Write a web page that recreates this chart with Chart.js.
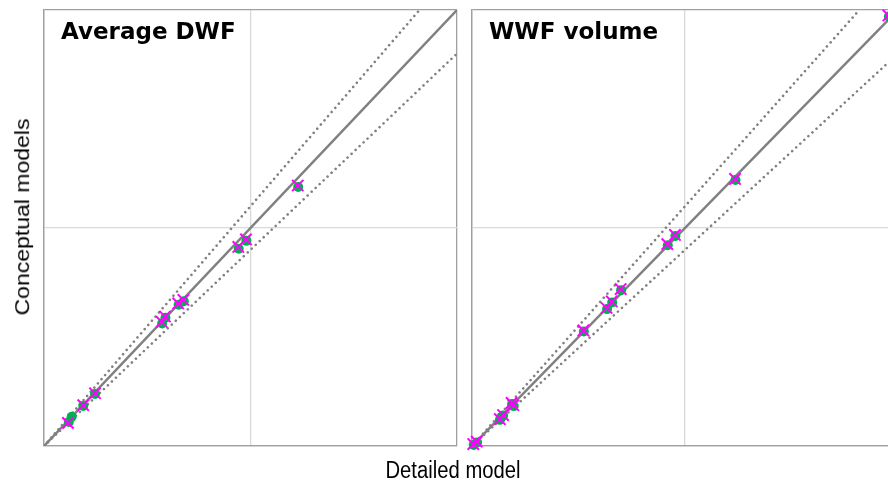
<!DOCTYPE html>
<html>
<head>
<meta charset="utf-8">
<script src="https://cdn.jsdelivr.net/npm/chart.js@4.4.0/dist/chart.umd.min.js"></script>
<style>
html,body{margin:0;padding:0;width:888px;height:491px;overflow:hidden;background:#fff;}
canvas{position:absolute;left:0;top:0;}
.ttl{position:absolute;font-family:"DejaVu Sans";font-weight:bold;font-size:23px;color:#000;white-space:nowrap;}
.ax{position:absolute;font-family:"Liberation Sans";font-size:23px;color:#000;white-space:nowrap;}
</style>
</head>
<body>
<canvas id="c1" width="888" height="491"></canvas>
<canvas id="c2" width="910" height="491"></canvas>
<div class="ttl" style="left:61px;top:18px;">Average DWF</div>
<div class="ttl" style="left:489px;top:18px;">WWF volume</div>
<div class="ax" style="left:453px;top:457px;transform:translateX(-50%) scaleX(0.88);">Detailed model</div>
<div class="ax" style="left:23px;top:217px;transform:translate(-50%,-50%) rotate(-90deg) scaleY(0.88);">Conceptual models</div>
<script>
// Panel 1: Average DWF (detailed vs conceptual, normalised units)
const dwfMagentaX = [0.116, 0.190, 0.247, 0.570, 0.586, 0.650, 0.675, 0.941, 0.978, 1.229];
const dwfMagentaY = [0.106, 0.187, 0.242, 0.569, 0.594, 0.654, 0.670, 0.913, 0.948, 1.195];
const dwfGreenX   = [0.134, 0.120, 0.190, 0.247, 0.572, 0.588, 0.652, 0.677, 0.943, 0.980, 1.231];
const dwfGreenY   = [0.134, 0.110, 0.184, 0.239, 0.562, 0.588, 0.648, 0.664, 0.905, 0.941, 1.188];
// Panel 2: WWF volume
const wwfMagentaX = [0.006, 0.022, 0.131, 0.146, 0.186, 0.194, 0.523, 0.632, 0.656, 0.698, 0.917, 0.953, 1.235, 1.955];
const wwfMagentaY = [0.009, 0.020, 0.123, 0.142, 0.198, 0.187, 0.530, 0.633, 0.663, 0.720, 0.926, 0.968, 1.225, 1.975];
const wwfGreenX   = [0.008, 0.024, 0.131, 0.139, 0.146, 0.188, 0.196, 0.525, 0.634, 0.658, 0.700, 0.919, 0.955, 1.237, 1.957];
const wwfGreenY   = [0.005, 0.016, 0.120, 0.134, 0.140, 0.193, 0.183, 0.525, 0.628, 0.658, 0.715, 0.921, 0.963, 1.220, 1.970];
const axisMax = 2;
const gridAt = 1;
const band = 0.1; // +/-10% lines

function pts(xs, ys){ return xs.map((x,i)=>({x:x,y:ys[i]})); }

function makeChart(id, mx, my, gx, gy, pad){
  const scale = {
    type:'linear', min:0, max:axisMax,
    ticks:{display:false, stepSize:gridAt},
    grid:{drawTicks:false, lineWidth:1.3,
      color:(c)=> c.tick && c.tick.value===gridAt ? '#d9d9d9' : '#a0a0a0'},
    border:{display:true, color:'#a0a0a0', width:1.3}
  };
  return new Chart(document.getElementById(id), {
    type:'scatter',
    data:{datasets:[
      {data:pts(mx,my), pointStyle:'crossRot', pointRadius:8, borderColor:'#ff00ff', backgroundColor:'#ff00ff', pointBorderWidth:2, showLine:false, order:0, clip:false},
      {data:pts(gx,gy), pointStyle:'circle', pointRadius:5, borderColor:'#00b050', backgroundColor:'#00b050', pointBorderWidth:0, showLine:false, order:1, clip:false},
      {data:[{x:0,y:0},{x:axisMax,y:axisMax}], showLine:true, borderColor:'#808080', borderWidth:2.5, pointRadius:0, order:2},
      {data:[{x:0,y:0},{x:axisMax/(1+band),y:axisMax}], showLine:true, borderColor:'#808080', borderWidth:2.6, borderDash:[0.01,5.5], borderCapStyle:'round', pointRadius:0, order:3},
      {data:[{x:0,y:0},{x:axisMax,y:axisMax*(1-band)}], showLine:true, borderColor:'#808080', borderWidth:2.6, borderDash:[0.01,5.5], borderCapStyle:'round', pointRadius:0, order:4}
    ]},
    options:{
      responsive:false, animation:false,
      layout:{padding:pad},
      plugins:{legend:{display:false}, tooltip:{enabled:false}},
      scales:{x:scale, y:Object.assign({}, scale)}
    }
  });
}
makeChart('c1', dwfMagentaX, dwfMagentaY, dwfGreenX, dwfGreenY, {left:44, top:8, right:431, bottom:45});
makeChart('c2', wwfMagentaX, wwfMagentaY, wwfGreenX, wwfGreenY, {left:472, top:8, right:12, bottom:45});
</script>
</body>
</html>
